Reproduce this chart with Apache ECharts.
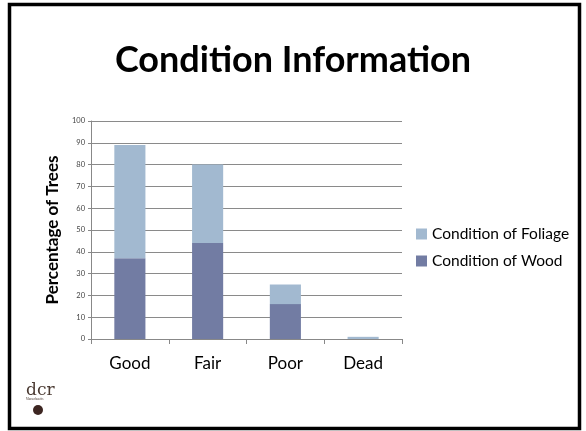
<!DOCTYPE html>
<html>
<head>
<meta charset="utf-8">
<script src="https://cdn.jsdelivr.net/npm/echarts@6/dist/echarts.min.js"></script>
<style>
	html, body { margin: 0; padding: 0; background: #fff; }
	#chart { width: 586px; height: 431px; }
</style>
</head>
<body>
<div id="chart"></div>
<script>
	// 数据
	const categories = ['Good', 'Fair', 'Poor', 'Dead']
	const woodValues = [37, 44, 16, 0]
	const foliageValues = [52, 36, 9, 1] // 叠加在 Wood 上面
	const yTicks = [0, 100, 10] // min, max, interval

	const font = 'Lato, "Open Sans", sans-serif'

	const chart = echarts.init(document.getElementById('chart'))

	const option = {
		backgroundColor: '#fff',
		animation: false,
		title: {
			text: 'Condition Information',
			left: 'center',
			top: 37,
			textStyle: {
				fontFamily: font,
				fontSize: 36,
				fontWeight: 'bold',
				color: '#000'
			}
		},
		legend: {
			orient: 'vertical',
			left: 411,
			top: 221,
			itemWidth: 11,
			itemHeight: 11,
			itemGap: 11,
			icon: 'rect',
			data: ['Condition of Foliage', 'Condition of Wood'],
			textStyle: {
				fontFamily: font,
				fontSize: 15.5,
				color: '#000'
			}
		},
		grid: {
			left: 91,
			right: 184,
			top: 121,
			bottom: 92
		},
		xAxis: {
			type: 'category',
			data: categories,
			axisLine: { lineStyle: { color: '#888' } },
			axisTick: { show: true, length: 5, lineStyle: { color: '#888' } },
			axisLabel: {
				margin: 16,
				fontFamily: font,
				fontSize: 17,
				color: '#000'
			}
		},
		yAxis: {
			type: 'value',
			min: yTicks[0],
			max: yTicks[1],
			interval: yTicks[2],
			name: 'Percentage of Trees',
			nameLocation: 'middle',
			nameGap: 25,
			nameTextStyle: {
				fontFamily: font,
				fontSize: 17,
				fontWeight: 'bold',
				color: '#000'
			},
			axisLine: { show: true, lineStyle: { color: '#888' } },
			axisTick: { show: true, length: 3, lineStyle: { color: '#888' } },
			axisLabel: {
				margin: 6,
				fontFamily: font,
				fontSize: 7.5,
				color: '#444'
			},
			splitLine: { lineStyle: { color: '#8a8a8a', width: 1 } }
		},
		series: [
			{
				name: 'Condition of Wood',
				type: 'bar',
				stack: 'total',
				barWidth: '40%',
				data: woodValues,
				itemStyle: { color: '#727ca3' }
			},
			{
				name: 'Condition of Foliage',
				type: 'bar',
				stack: 'total',
				barWidth: '40%',
				data: foliageValues,
				itemStyle: { color: '#a2b9d0' }
			}
		],
		graphic: [
			{
				type: 'rect',
				shape: { x: 9.5, y: 4.5, width: 570, height: 424 },
				style: { fill: 'none', stroke: '#000', lineWidth: 3.5 },
				silent: true
			},
			{
				type: 'text',
				left: 26,
				top: 382,
				style: {
					text: 'dcr',
					fontFamily: '"DejaVu Serif", "Liberation Serif", serif',
					fontSize: 17,
					fill: '#4b3b33'
				}
			},
			{
				type: 'text',
				left: 26,
				top: 398,
				style: {
					text: 'Massachusetts',
					fontFamily: 'serif',
					fontSize: 3,
					fill: '#4b3b33'
				}
			},
			{
				type: 'circle',
				shape: { cx: 38, cy: 410, r: 5 },
				style: { fill: '#3d2622' }
			}
		]
	}

	chart.setOption(option)
	window.onresize = () => {
		chart.resize()
	}
</script>
</body>
</html>
